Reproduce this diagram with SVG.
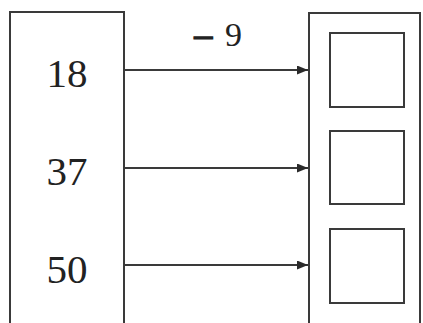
<svg xmlns="http://www.w3.org/2000/svg" width="423" height="323" viewBox="0 0 423 323">
<style>
.box{fill:none;stroke:#3a3a3a;stroke-width:2}
.conn{stroke:#3a3a3a;stroke-width:2;fill:none}
.num{font-family:"Liberation Serif",serif;font-size:41px;fill:#222;text-anchor:middle}
.lbl{font-family:"Liberation Serif",serif;font-size:34px;fill:#222}
.minus{font-size:40px;stroke:#222;stroke-width:1.2}
</style>
<defs>
<marker id="ah" viewBox="0 0 11 9" refX="11" refY="4.5" markerWidth="11" markerHeight="9" markerUnits="userSpaceOnUse" orient="auto">
<path d="M0,0 L11,4.5 L0,9 Z" fill="#2a2a2a"/>
</marker>
</defs>
<rect width="423" height="323" fill="#fff"/>
<g id="left-box">
<path class="box" d="M10,323 V12 H124 V323"/>
<text class="num" x="67" y="87">18</text>
<text class="num" x="67" y="185">37</text>
<text class="num" x="67" y="283">50</text>
</g>
<g id="right-box">
<path class="box" d="M309,323 V13 H420 V323"/>
<rect class="box" x="330" y="33" width="74" height="74"/>
<rect class="box" x="330" y="131" width="74" height="73"/>
<rect class="box" x="330" y="229" width="74" height="74"/>
</g>
<g id="connectors">
<line class="conn" x1="124" y1="70" x2="308" y2="70" marker-end="url(#ah)"/>
<line class="conn" x1="124" y1="168" x2="308" y2="168" marker-end="url(#ah)"/>
<line class="conn" x1="124" y1="265" x2="308" y2="265" marker-end="url(#ah)"/>
<text class="lbl" x="192" y="46"><tspan class="minus" y="51">−</tspan><tspan x="225" y="46">9</tspan></text>
</g>
</svg>
